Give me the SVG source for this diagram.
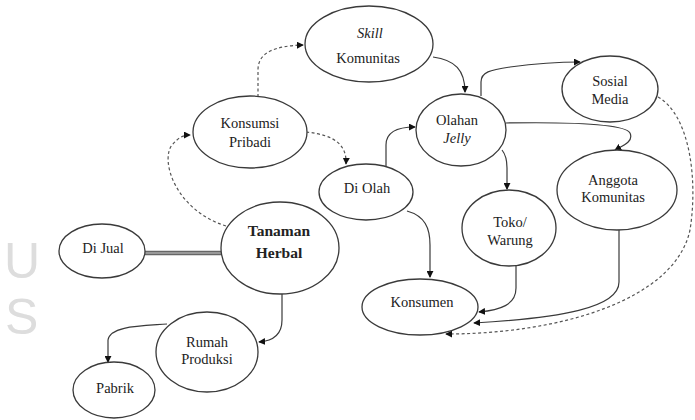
<svg xmlns="http://www.w3.org/2000/svg" width="695" height="420" viewBox="0 0 695 420">
<style>
.node ellipse{fill:#fff;stroke:#3a3a3a;stroke-width:1.3}
.node text{font-family:"Liberation Serif","Times New Roman",serif;font-size:14.5px;fill:#222;text-anchor:middle}
.node text.bold{font-weight:bold;font-size:15.5px}
.node text.it{font-style:italic}
.c{fill:none;stroke:#3a3a3a;stroke-width:1.2}
.d{stroke-dasharray:3 2.5;stroke:#555}
.wm{font-family:"Liberation Sans",Arial,sans-serif;font-size:50px;fill:#dddddd}
</style>
<defs>
<marker id="ah" viewBox="0 0 8 8" refX="7" refY="4" markerWidth="7" markerHeight="7" markerUnits="userSpaceOnUse" orient="auto">
<path d="M0,0 L8,4 L0,8 z" fill="#111"/>
</marker>
</defs>
<rect width="695" height="420" fill="#fff"/>
<text class="wm" x="4" y="278">U</text>
<text class="wm" x="5" y="334">S</text>

<g id="connectors">
<path class="c d" d="M226,226 C175,210 160,160 172,145 C178,138 183,135 190,135" marker-end="url(#ah)"/>
<path class="c d" d="M258,97 L258,70 C258,52 275,46 303,45" marker-end="url(#ah)"/>
<path class="c d" d="M306,132 C335,135 347,145 346,164" marker-end="url(#ah)"/>
<path class="c" d="M433,57 C455,60 465,70 465,92" marker-end="url(#ah)"/>
<path class="c" d="M386,166 L386,145 C386,132 398,127 415,127" marker-end="url(#ah)"/>
<path class="c" d="M481,96 L481,82 C481,72 490,70 510,67 C540,63 565,62 580,62" marker-end="url(#ah)"/>
<path class="c" d="M506,123 C570,122 625,124 630,133 C634,142 622,146 615,150" marker-end="url(#ah)"/>
<path class="c" d="M502,150 C506,155 507,160 507,168 L507,189" marker-end="url(#ah)"/>
<path class="c" d="M407,211 C425,216 430,228 430,245 L430,277" marker-end="url(#ah)"/>
<path class="c" d="M516,266 L516,288 C516,305 500,310 479,312" marker-end="url(#ah)"/>
<path class="c" d="M619,230 L619,282 C619,308 560,318 474,323" marker-end="url(#ah)"/>
<path class="c d" d="M658,97 C690,115 698,180 690,230 C675,300 560,334 446,334" marker-end="url(#ah)"/>
<path class="c" d="M282,294 L282,320 C282,335 272,341 259,342" marker-end="url(#ah)"/>
<path class="c" d="M167,324 C140,326 110,326 108,340 L108,362" marker-end="url(#ah)"/>
<line x1="145" y1="253" x2="222" y2="253" stroke="#666" stroke-width="4.5"/>
<line x1="145" y1="253" x2="222" y2="253" stroke="#aaa" stroke-width="1.5"/>
</g>

<g id="skill-komunitas" class="node"><ellipse cx="369" cy="44" rx="64" ry="38"/><text class="it" x="370" y="38">Skill</text><text x="368" y="63">Komunitas</text></g>
<g id="konsumsi-pribadi" class="node"><ellipse cx="250" cy="132" rx="57" ry="36"/><text x="250" y="128">Konsumsi</text><text x="250" y="147">Pribadi</text></g>
<g id="di-olah" class="node"><ellipse cx="366" cy="192" rx="47" ry="28"/><text x="367" y="193">Di Olah</text></g>
<g id="tanaman-herbal" class="node"><ellipse cx="280" cy="248" rx="59" ry="46"/><text class="bold" x="279" y="236">Tanaman</text><text class="bold" x="279" y="258">Herbal</text></g>
<g id="di-jual" class="node"><ellipse cx="102" cy="251" rx="43" ry="27"/><text x="103" y="253">Di Jual</text></g>
<g id="rumah-produksi" class="node"><ellipse cx="207" cy="352" rx="51" ry="40"/><text x="207" y="347">Rumah</text><text x="207" y="364">Produksi</text></g>
<g id="pabrik" class="node"><ellipse cx="114" cy="390" rx="41" ry="28"/><text x="115" y="393">Pabrik</text></g>
<g id="olahan-jelly" class="node"><ellipse cx="461" cy="130" rx="45" ry="36"/><text x="457" y="125">Olahan</text><text class="it" x="457" y="143">Jelly</text></g>
<g id="sosial-media" class="node"><ellipse cx="610" cy="89" rx="48" ry="33"/><text x="610" y="86">Sosial</text><text x="610" y="104">Media</text></g>
<g id="anggota-komunitas" class="node"><ellipse cx="617" cy="190" rx="60" ry="40"/><text x="613" y="185">Anggota</text><text x="613" y="202">Komunitas</text></g>
<g id="toko-warung" class="node"><ellipse cx="509" cy="228" rx="47" ry="38"/><text x="510" y="227">Toko/</text><text x="510" y="245">Warung</text></g>
<g id="konsumen" class="node"><ellipse cx="420" cy="307" rx="58" ry="28"/><text x="422" y="307">Konsumen</text></g>
</svg>
